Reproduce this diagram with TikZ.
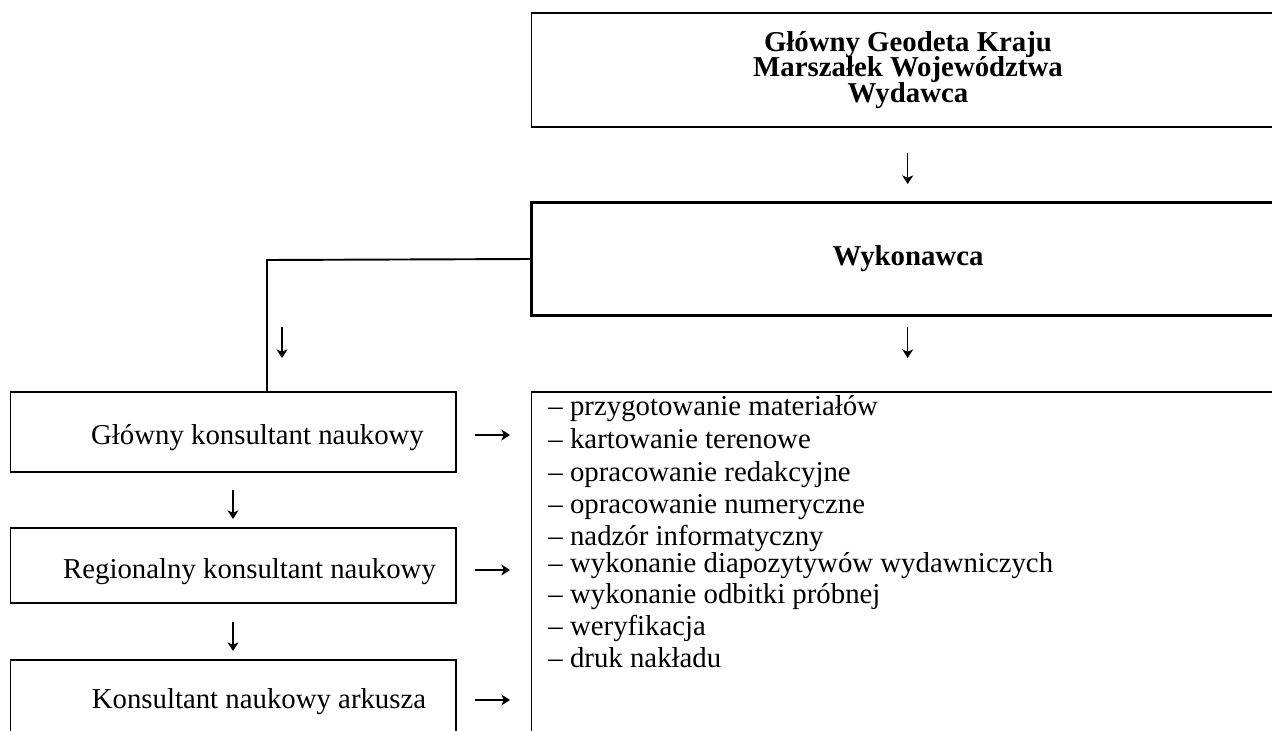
\documentclass[tikz,border=0pt]{standalone}
\usepackage{fontspec}
\setmainfont{Liberation Serif}
\usetikzlibrary{positioning,arrows.meta}

\begin{document}
\begin{tikzpicture}[x=0.41667pt,y=-0.41667pt,
  prawy/.style={draw,line width=0.8pt,minimum width=313.75pt,inner sep=0pt},
  lewy/.style={draw,line width=0.8pt,minimum width=185.6pt,inner sep=0pt},
  opis/.style={anchor=base,inner sep=0pt,font=\fontsize{12}{14}\selectfont},
  zadanie/.style={anchor=base west,inner sep=0pt,font=\fontsize{12}{14}\selectfont},
  strzalka/.style={line width=0.5pt,-{Stealth[length=3.6pt,width=4.6pt,inset=1pt]}}]
\useasboundingbox (0,0) rectangle (1272,731);
\clip (0,0) rectangle (1272,731);
% prawa kolumna
\node[prawy,minimum height=47.5pt,align=center,
  font=\bfseries\fontsize{12}{10.5}\selectfont\setlength{\lineskiplimit}{-20pt}\relax] (wydawca) at (908,70)
  {Główny Geodeta Kraju\\Marszałek Województwa\\Wydawca};
\node[prawy,minimum height=47.1pt,line width=1.1pt,font=\bfseries\fontsize{12}{14}\selectfont] (wykonawca) at (908,259) {Wykonawca};
\node[prawy,minimum height=153.3pt] (zadania) at (908,576) {};
\foreach \y/\t in {415/przygotowanie materiałów,448/kartowanie terenowe,481/opracowanie redakcyjne,
  513/opracowanie numeryczne,545/nadzór informatyczny,572/wykonanie diapozytywów wydawniczych,
  603/wykonanie odbitki próbnej,635/weryfikacja,667/druk nakładu}
  \node[zadanie] (z\y) at (548,\y) {– \t};
% lewa kolumna
\node[lewy,minimum height=33.3pt] (gkn) at (233.25,432) {};
\node[lewy,minimum height=31.25pt] (rkn) at (233.25,565.5) {};
\node[lewy,minimum height=41.7pt] (kna) at (233.25,710) {};
\node[opis] (gkn-t) at (257.5,444) {Główny konsultant naukowy};
\node[opis] (rkn-t) at (249.5,578) {Regionalny konsultant naukowy};
\node[opis] (kna-t) at (259,708) {Konsultant naukowy arkusza};
% strzalki
\foreach \n/\xa/\ya/\xb/\yb in {1/907.7/153/907.7/184, 2/907.7/327/907.7/358, 3/282/327/282/358,
  4/233/490/233/519, 5/233/622/233/651, 6/475/435/510/435, 7/475/570/510/570, 8/475/700/510/700}
{
  \coordinate (s\n a) at (\xa,\ya);
  \coordinate (s\n b) at (\xb,\yb);
  \draw[strzalka] (s\n a) -- (s\n b);
}
% polaczenie
\coordinate (kolano) at (267,260);
\draw[line width=0.8pt] (wykonawca.west) -- (kolano) -- (kolano |- gkn.north);
\end{tikzpicture}
\end{document}
